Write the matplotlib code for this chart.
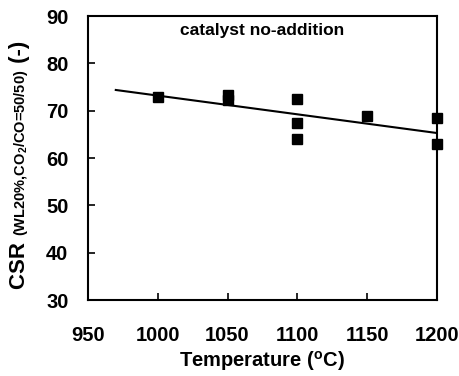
import matplotlib
matplotlib.use("Agg")
import matplotlib.pyplot as plt
import numpy as np

plt.rcParams['font.family'] = ['Liberation Sans', 'DejaVu Sans']
plt.rcParams['mathtext.fontset'] = 'custom'
plt.rcParams['mathtext.rm'] = 'Liberation Sans:bold'
plt.rcParams['mathtext.it'] = 'Liberation Sans:bold'
plt.rcParams['mathtext.bf'] = 'Liberation Sans:bold'

temps = [1000, 1050, 1050, 1100, 1100, 1100, 1150, 1200, 1200]
csr = [73.0, 73.3, 72.3, 72.5, 67.5, 64.0, 69.0, 68.5, 63.0]
fit_x = [970, 1200]
fit_y = [74.4, 65.3]
xticks = [950, 1000, 1050, 1100, 1150, 1200]
yticks = [30, 40, 50, 60, 70, 80, 90]

fig = plt.figure(figsize=(4.6, 3.76), dpi=100)
ax = fig.add_axes([0.191, 0.202, 0.759, 0.755])
ax.plot(fit_x, fit_y, color='black', lw=1.5)
ax.plot(temps, csr, 's', color='black', ms=7, clip_on=False)
ax.set_xlim(950, 1200)
ax.set_ylim(30, 90)
ax.set_xticks(xticks)
ax.set_yticks(yticks)
for s in ax.spines.values():
    s.set_linewidth(1.5)
ax.tick_params(direction='in', length=5, width=1.2, labelsize=14.5)
ax.tick_params(axis='x', pad=18.5)
ax.tick_params(axis='y', pad=14)
for lab in ax.get_xticklabels() + ax.get_yticklabels():
    lab.set_fontweight('bold')

ax.text(0.5, 0.951, 'catalyst no-addition', transform=ax.transAxes,
        ha='center', va='center', fontsize=12.5, fontweight='bold')
fig.text(262/460, 1-361/376, r'Temperature ($^{\mathregular{o}}$C)', ha='center', va='center',
         fontsize=14.5, fontweight='bold')

# composite y label
fig.canvas.draw()
r = fig.canvas.get_renderer()
xbase = 25/460
ypos = 1 - 289/376
pieces = [('CSR ', 16), (r'(WL20%,CO$_2$/CO=50/50)', 10.5), (' (-)', 16)]
for txt, fs in pieces:
    t = fig.text(xbase, ypos, txt, rotation=90, rotation_mode='anchor',
                 ha='left', va='baseline', fontsize=fs, fontweight='bold')
    bb = t.get_window_extent(r)
    ypos += bb.height / fig.bbox.height

fig.savefig('out.png', dpi=100)
